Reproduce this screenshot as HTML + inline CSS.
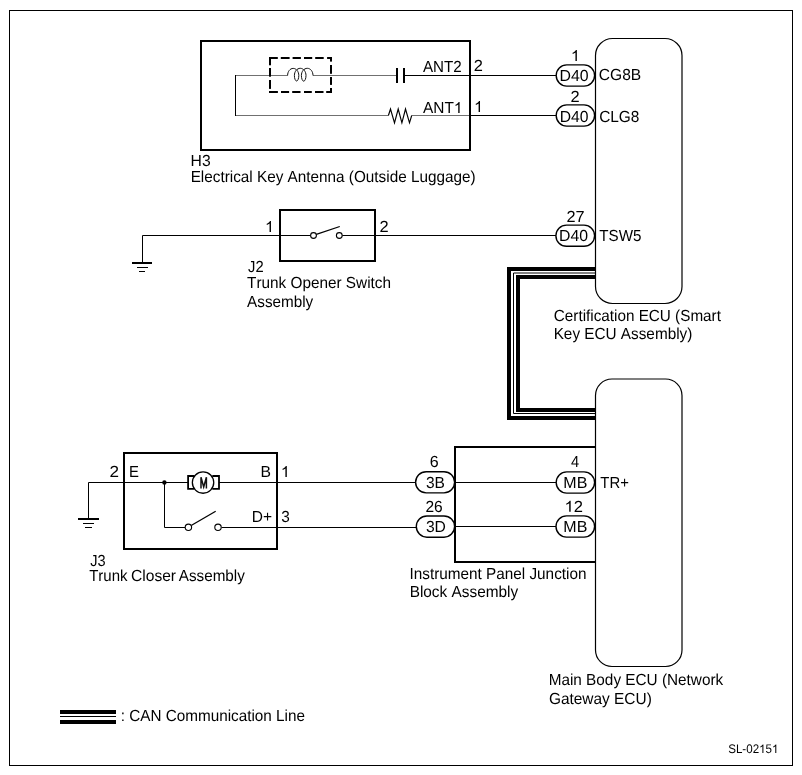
<!DOCTYPE html>
<html><head><meta charset="utf-8"><style>
html,body{margin:0;padding:0;background:#fff;overflow:hidden;}
svg{display:block;will-change:transform;}
text{font-family:"Liberation Sans",sans-serif;fill:#000;text-rendering:geometricPrecision;font-kerning:none;}
</style></head><body>
<svg width="802" height="775" viewBox="0 0 802 775">
<rect width="802" height="775" fill="#fff"/>
<rect x="9.5" y="10.5" width="783" height="755" fill="none" stroke="#000" stroke-width="1"/>
<rect x="201" y="41" width="269" height="109" fill="none" stroke="#000" stroke-width="2"/>
<path d="M287.6 75.5 H236 M236 115.5 H388.4" fill="none" stroke="#707070" stroke-width="1"/>
<path d="M235.5 75 V116" stroke="#000" stroke-width="1"/>
<path d="M313 75.5 H396" fill="none" stroke="#707070" stroke-width="1"/>
<path d="M411.7 115.5 H469" fill="none" stroke="#707070" stroke-width="1"/>
<rect x="269" y="57" width="8.80" height="2" fill="#000"/>
<rect x="280.8" y="57" width="8.80" height="2" fill="#000"/>
<rect x="292.6" y="57" width="8.30" height="2" fill="#000"/>
<rect x="304" y="57" width="8.20" height="2" fill="#000"/>
<rect x="315.2" y="57" width="8.50" height="2" fill="#000"/>
<rect x="327.1" y="57" width="4.90" height="2" fill="#000"/>
<rect x="269" y="91" width="8.90" height="2" fill="#000"/>
<rect x="281" y="91" width="8.10" height="2" fill="#000"/>
<rect x="292.2" y="91" width="8.30" height="2" fill="#000"/>
<rect x="304" y="91" width="7.80" height="2" fill="#000"/>
<rect x="315" y="91" width="8.50" height="2" fill="#000"/>
<rect x="326.2" y="91" width="5.80" height="2" fill="#000"/>
<rect x="269" y="57" width="2" height="8.30" fill="#000"/>
<rect x="269" y="68" width="2" height="8.70" fill="#000"/>
<rect x="269" y="80" width="2" height="8.90" fill="#000"/>
<rect x="330" y="57" width="2" height="4.60" fill="#000"/>
<rect x="330" y="65" width="2" height="8.80" fill="#000"/>
<rect x="330" y="77" width="2" height="7.90" fill="#000"/>
<rect x="330" y="88" width="2" height="5.00" fill="#000"/>
<path d="M287.6 75.5 C287.6 71.5 290.1 68.4 293.2 68.4 C296.3 68.4 298.8 71.6 298.8 75.5 C298.8 78.5 297.8 81 296.6 81 C295.4 81 294.4 78.5 294.4 75.5 C294.4 71.5 297 68.3 300.3 68.3 C303.4 68.3 306 71.5 306 75.5 C306 78.6 304.9 81.2 303.7 81.2 C302.5 81.2 301.4 78.6 301.4 75.5 C301.4 71.5 304 68.3 307.3 68.3 C310.5 68.3 313 71.5 313 75.5" fill="none" stroke="#111" stroke-width="1"/>
<path d="M397 68 V83 M404 68 V83" stroke="#000" stroke-width="2"/>
<path d="M388.4 115.5 L390.5 109 L394.5 122.8 L398.2 109 L401.9 122.8 L405.5 109 L409.5 122.8 L411.7 115.5" fill="none" stroke="#000" stroke-width="1.15" stroke-linejoin="miter"/>
<path d="M404 75.5 H556 M470 115.5 H556" stroke="#000" stroke-width="1"/>
<path d="M142.5 262 V235.5 H310.6 M342.2 235.5 H556" fill="none" stroke="#000" stroke-width="1"/>
<rect x="132" y="262" width="20" height="2" fill="#000"/>
<rect x="137" y="267" width="11" height="1" fill="#000"/>
<rect x="139" y="271" width="6" height="1" fill="#000"/>
<rect x="280" y="210" width="95" height="51" fill="none" stroke="#000" stroke-width="2"/>
<circle cx="313.5" cy="235.5" r="2.9" fill="#fff" stroke="#000" stroke-width="1.1"/>
<circle cx="339.3" cy="235.5" r="2.9" fill="#fff" stroke="#000" stroke-width="1.1"/>
<path d="M316.3 234.4 L339.8 226.5" stroke="#000" stroke-width="1.3"/>
<rect x="595.5" y="38.5" width="86.5" height="265" rx="17" ry="17" fill="none" stroke="#000" stroke-width="1.2"/>
<rect x="595.5" y="379" width="86.5" height="287.5" rx="16.5" ry="16.5" fill="none" stroke="#000" stroke-width="1.2"/>
<path d="M596 269 H509 V418 H596" fill="none" stroke="#000" stroke-width="4" stroke-linejoin="miter"/>
<path d="M596 273 H513.5 V413.5 H596" fill="none" stroke="#000" stroke-width="1"/>
<path d="M596 277 H518 V410 H596" fill="none" stroke="#000" stroke-width="4" stroke-linejoin="miter"/>
<rect x="124" y="453" width="153" height="96" fill="none" stroke="#000" stroke-width="2"/>
<path d="M88.5 518 V482.5 H188 M219 482.5 H416 M164.5 482.5 V527.5 H185 M221.5 527.5 H416" fill="none" stroke="#000" stroke-width="1"/>
<rect x="78" y="518" width="21" height="2" fill="#000"/>
<rect x="83" y="523" width="11" height="1" fill="#000"/>
<rect x="85" y="527" width="7" height="1" fill="#000"/>
<circle cx="164.4" cy="482.5" r="2.2" fill="#000"/>
<circle cx="188.4" cy="527.3" r="3.2" fill="#fff" stroke="#000" stroke-width="1.1"/>
<circle cx="218" cy="527.3" r="3.2" fill="#fff" stroke="#000" stroke-width="1.1"/>
<path d="M191.6 525.3 L215.7 511.3" stroke="#000" stroke-width="1.3"/>
<path d="M194.5 476 H188.1 V488.9 H194.2 M212.3 476 H219 V488.9 H212.3" fill="none" stroke="#000" stroke-width="1.8"/>
<circle cx="203.05" cy="482.55" r="10.7" fill="none" stroke="#000" stroke-width="1.3"/>
<path d="M201 488.5 V477.2 L203.7 487 L206.4 477.2 V488.5" fill="none" stroke="#111" stroke-width="1.5" stroke-linejoin="miter"/>
<path d="M455 446 V562 M454 447 H595.5 M454 562 H595.5" fill="none" stroke="#000" stroke-width="2"/>
<path d="M454 482.5 H556 M454 526.5 H556" stroke="#000" stroke-width="1"/>
<rect x="556.20" y="64.90" width="38.40" height="21.20" rx="10.60" ry="10.60" fill="none" stroke="#000" stroke-width="1.4"/>
<rect x="556.20" y="104.90" width="38.40" height="21.20" rx="10.60" ry="10.60" fill="none" stroke="#000" stroke-width="1.4"/>
<rect x="555.90" y="225.10" width="38.70" height="21.20" rx="10.60" ry="10.60" fill="none" stroke="#000" stroke-width="1.4"/>
<rect x="415.60" y="471.70" width="39.00" height="21.20" rx="10.60" ry="10.60" fill="none" stroke="#000" stroke-width="1.4"/>
<rect x="416.30" y="516.00" width="38.30" height="21.20" rx="10.60" ry="10.60" fill="none" stroke="#000" stroke-width="1.4"/>
<rect x="556.20" y="471.90" width="38.40" height="21.20" rx="10.60" ry="10.60" fill="none" stroke="#000" stroke-width="1.4"/>
<rect x="556.00" y="515.90" width="38.60" height="21.20" rx="10.60" ry="10.60" fill="none" stroke="#000" stroke-width="1.4"/>
<rect x="60" y="710" width="56" height="4" fill="#000"/>
<rect x="60" y="716" width="56" height="1" fill="#000"/>
<rect x="60" y="720" width="56" height="4" fill="#000"/>
<text transform="translate(190.62,166.00) scale(0.9810,1)" font-size="16.0">H3</text>
<text transform="translate(190.66,182.00) scale(0.9562,1)" font-size="16.0">Electrical Key Antenna (Outside Luggage)</text>
<text transform="translate(423.00,72.00) scale(0.9476,1)" font-size="16.0">ANT2</text>
<text transform="translate(473.68,71.00) scale(1.0274,1)" font-size="16.0">2</text>
<g transform="translate(422.97,113.00) scale(0.9649,1)"><text x="0.000" y="0" font-size="16.0">ANT</text><path transform="translate(32.000,0)" d="M 5.961 -0.000 L 4.555 -0.000 L 4.555 -8.609 Q 4.047 -8.148 3.219 -7.680 Q 2.391 -7.219 1.742 -6.984 L 1.742 -8.289 Q 2.906 -8.812 3.781 -9.562 Q 4.656 -10.320 5.016 -11.008 L 5.961 -11.008 Z" fill="#000"/></g>
<g transform="translate(474.05,112.00) scale(1.0000,1)"><path transform="translate(0.000,0)" d="M 5.961 -0.000 L 4.555 -0.000 L 4.555 -8.609 Q 4.047 -8.148 3.219 -7.680 Q 2.391 -7.219 1.742 -6.984 L 1.742 -8.289 Q 2.906 -8.812 3.781 -9.562 Q 4.656 -10.320 5.016 -11.008 L 5.961 -11.008 Z" fill="#000"/></g>
<g transform="translate(570.90,61.00) scale(1.0000,1)"><path transform="translate(0.000,0)" d="M 5.961 -0.000 L 4.555 -0.000 L 4.555 -8.609 Q 4.047 -8.148 3.219 -7.680 Q 2.391 -7.219 1.742 -6.984 L 1.742 -8.289 Q 2.906 -8.812 3.781 -9.562 Q 4.656 -10.320 5.016 -11.008 L 5.961 -11.008 Z" fill="#000"/></g>
<text transform="translate(559.51,81.00) scale(0.9909,1)" font-size="16.0">D40</text>
<text transform="translate(598.82,80.00) scale(0.9726,1)" font-size="16.0">CG8B</text>
<text transform="translate(570.58,101.70) scale(1.0274,1)" font-size="16.0">2</text>
<text transform="translate(559.73,121.70) scale(0.9800,1)" font-size="16.0">D40</text>
<text transform="translate(599.13,121.80) scale(0.9641,1)" font-size="16.0">CLG8</text>
<g transform="translate(265.00,232.00) scale(1.0000,1)"><path transform="translate(0.000,0)" d="M 5.961 -0.000 L 4.555 -0.000 L 4.555 -8.609 Q 4.047 -8.148 3.219 -7.680 Q 2.391 -7.219 1.742 -6.984 L 1.742 -8.289 Q 2.906 -8.812 3.781 -9.562 Q 4.656 -10.320 5.016 -11.008 L 5.961 -11.008 Z" fill="#000"/></g>
<text transform="translate(379.58,232.00) scale(1.0274,1)" font-size="16.0">2</text>
<text transform="translate(566.49,222.00) scale(1.0185,1)" font-size="16.0">27</text>
<text transform="translate(559.12,240.60) scale(0.9872,1)" font-size="16.0">D40</text>
<text transform="translate(599.27,240.70) scale(0.9482,1)" font-size="16.0">TSW5</text>
<text transform="translate(248.07,272.00) scale(0.9211,1)" font-size="16.0">J2</text>
<text transform="translate(247.06,288.00) scale(0.9579,1)" font-size="16.0">Trunk Opener Switch</text>
<text transform="translate(247.10,307.00) scale(0.9531,1)" font-size="16.0">Assembly</text>
<text transform="translate(553.84,320.80) scale(0.9538,1)" font-size="16.0">Certification ECU (Smart</text>
<text transform="translate(553.66,339.00) scale(0.9566,1)" font-size="16.0">Key ECU Assembly)</text>
<text transform="translate(109.45,477.00) scale(1.0685,1)" font-size="16.0">2</text>
<text transform="translate(128.89,477.00) scale(0.9310,1)" font-size="16.0">E</text>
<text transform="translate(260.42,477.00) scale(0.9825,1)" font-size="16.0">B</text>
<g transform="translate(280.85,477.00) scale(1.0000,1)"><path transform="translate(0.000,0)" d="M 5.961 -0.000 L 4.555 -0.000 L 4.555 -8.609 Q 4.047 -8.148 3.219 -7.680 Q 2.391 -7.219 1.742 -6.984 L 1.742 -8.289 Q 2.906 -8.812 3.781 -9.562 Q 4.656 -10.320 5.016 -11.008 L 5.961 -11.008 Z" fill="#000"/></g>
<text transform="translate(251.74,522.00) scale(0.9708,1)" font-size="16.0">D+</text>
<text transform="translate(281.22,522.00) scale(0.9605,1)" font-size="16.0">3</text>
<text transform="translate(90.17,566.00) scale(0.9091,1)" font-size="16.0">J3</text>
<text transform="translate(89.17,581.00) scale(0.9375,1)" font-size="16.0">Trunk</text>
<text transform="translate(131.02,581.00) scale(0.9735,1)" font-size="16.0">Closer</text>
<text transform="translate(178.80,581.00) scale(0.9517,1)" font-size="16.0">Assembly</text>
<text transform="translate(429.70,467.00) scale(1.0000,1)" font-size="16.0">6</text>
<text transform="translate(425.92,487.60) scale(0.9697,1)" font-size="16.0">3B</text>
<text transform="translate(425.42,512.00) scale(0.9693,1)" font-size="16.0">26</text>
<text transform="translate(425.91,532.00) scale(0.9791,1)" font-size="16.0">3D</text>
<text transform="translate(571.08,466.70) scale(0.9136,1)" font-size="16.0">4</text>
<text transform="translate(563.30,487.50) scale(1.0000,1)" font-size="16.0">MB</text>
<text transform="translate(600.37,487.50) scale(0.9291,1)" font-size="16.0">TR+</text>
<g transform="translate(564.49,511.80) scale(1.0361,1)"><path transform="translate(0.000,0)" d="M 5.961 -0.000 L 4.555 -0.000 L 4.555 -8.609 Q 4.047 -8.148 3.219 -7.680 Q 2.391 -7.219 1.742 -6.984 L 1.742 -8.289 Q 2.906 -8.812 3.781 -9.562 Q 4.656 -10.320 5.016 -11.008 L 5.961 -11.008 Z" fill="#000"/><text x="8.898" y="0" font-size="16.0">2</text></g>
<text transform="translate(563.30,531.60) scale(1.0000,1)" font-size="16.0">MB</text>
<text transform="translate(409.51,579.00) scale(0.9565,1)" font-size="16.0">Instrument Panel Junction</text>
<text transform="translate(409.65,597.00) scale(0.9607,1)" font-size="16.0">Block Assembly</text>
<text transform="translate(548.66,685.00) scale(0.9575,1)" font-size="16.0">Main Body ECU (Network</text>
<text transform="translate(548.93,704.00) scale(0.9638,1)" font-size="16.0">Gateway ECU)</text>
<text transform="translate(120.72,720.50) scale(0.9544,1)" font-size="16.0">: CAN Communication Line</text>
<g transform="translate(728.17,753.00) scale(0.9270,1)"><text x="0.000" y="0" font-size="12.5">SL-02</text><path transform="translate(33.356,0)" d="M 4.657 -0.000 L 3.558 -0.000 L 3.558 -6.726 Q 3.162 -6.366 2.515 -6.000 Q 1.868 -5.640 1.361 -5.457 L 1.361 -6.476 Q 2.271 -6.885 2.954 -7.471 Q 3.638 -8.063 3.918 -8.600 L 4.657 -8.600 Z" fill="#000"/><text x="40.308" y="0" font-size="12.5">5</text><path transform="translate(47.260,0)" d="M 4.657 -0.000 L 3.558 -0.000 L 3.558 -6.726 Q 3.162 -6.366 2.515 -6.000 Q 1.868 -5.640 1.361 -5.457 L 1.361 -6.476 Q 2.271 -6.885 2.954 -7.471 Q 3.638 -8.063 3.918 -8.600 L 4.657 -8.600 Z" fill="#000"/></g>
</svg>
</body></html>
